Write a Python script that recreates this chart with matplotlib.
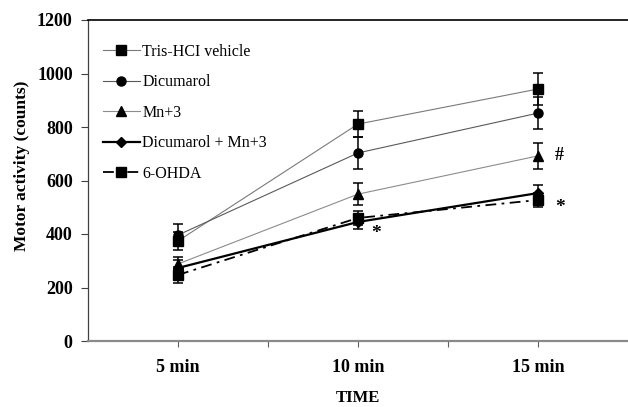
import matplotlib.pyplot as plt

plt.rcParams['font.family'] = ['Liberation Serif', 'DejaVu Serif']

times = ['5 min', '10 min', '15 min']

tris = [374, 811, 942]
tris_err = [35, 50, 60]
dicumarol = [396, 703, 852]
dicumarol_err = [40, 60, 60]
mn3 = [288, 549, 692]
mn3_err = [25, 42, 50]
dicu_mn3 = [273, 445, 553]
dicu_mn3_err = [30, 28, 30]
ohda = [247, 460, 527]
ohda_err = [30, 25, 25]

fig = plt.figure(figsize=(6.28, 4.07), dpi=100)
ax = fig.add_axes([88 / 628, 1 - 341 / 407, 540 / 628, 321 / 407])

x = list(range(len(times)))

series = [
    # label, values, errors, marker, colour, linewidth, linestyle
    ('Tris-HCI vehicle', tris, tris_err, 's', '#7a7a7a', 0.8, '-'),
    ('Dicumarol', dicumarol, dicumarol_err, 'o', '#5a5a5a', 0.8, '-'),
    ('Mn+3', mn3, mn3_err, '^', '#8c8c8c', 0.8, '-'),
    ('Dicumarol + Mn+3', dicu_mn3, dicu_mn3_err, 'D', 'black', 1.6, '-'),
    ('6-OHDA', ohda, ohda_err, 's', 'black', 1.3, (0, (6, 3, 1.5, 3))),
]

handles = []
for label, vals, errs, marker, color, lw, ls in series:
    ms = 6.5 if marker != 'D' else 5.5
    ax.errorbar(x, vals, yerr=errs, fmt='none', ecolor='black',
                elinewidth=1.1, capsize=3.8, capthick=1.1, zorder=3)
    ax.plot(x, vals, color=color, lw=lw, linestyle=ls, zorder=4)
    ax.plot(x, vals, linestyle='none', marker=marker, color='black',
            markersize=ms, zorder=5)
    # legend handle: line with black marker, no error bars
    h, = ax.plot([], [], color=color, lw=lw, linestyle=ls, marker=marker,
                 markerfacecolor='black', markeredgecolor='black', markersize=ms)
    handles.append(h)

ax.text(2.12, 692, '#', fontsize=13, fontweight='bold', va='center', ha='center')
ax.text(2.12, 500, '*', fontsize=14, fontweight='bold', va='center', ha='center')
ax.text(1.1, 403, '*', fontsize=14, fontweight='bold', va='center', ha='center')

ax.legend(handles=handles, labels=[s[0] for s in series],
          loc='upper left', bbox_to_anchor=(0.028, 0.925), frameon=False,
          fontsize=11.5, handlelength=2.3, handletextpad=0.15,
          labelspacing=0.9, borderpad=0, borderaxespad=0)

ax.set_xlim(-0.5, 2.5)
ax.set_ylim(0, 1200)
ax.set_yticks(range(0, 1201, 200))
ax.set_xticks(x)
ax.set_xticklabels(times, fontsize=13, fontweight='bold')
ax.set_xticks([0.5, 1.5], minor=True)
for lab in ax.get_yticklabels():
    lab.set_fontsize(13)
    lab.set_fontweight('bold')

ax.tick_params(axis='y', direction='out', length=5, width=0.8, color='#404040', pad=6)
ax.tick_params(axis='x', which='both', direction='out', length=4, width=0.8,
               color='#606060', pad=9)

ax.spines['right'].set_visible(False)
ax.spines['top'].set_color('black')
ax.spines['top'].set_linewidth(1.2)
ax.spines['left'].set_color('#404040')
ax.spines['left'].set_linewidth(0.9)
ax.spines['bottom'].set_color('#8a8a8a')
ax.spines['bottom'].set_linewidth(1.6)

ax.set_xlabel('TIME', fontsize=12, fontweight='bold', labelpad=10)
ax.set_ylabel('Motor activity (counts)', fontsize=12.5, fontweight='bold')
ax.yaxis.set_label_coords(-0.108, 0.545)

fig.savefig('out.png', dpi=100)
